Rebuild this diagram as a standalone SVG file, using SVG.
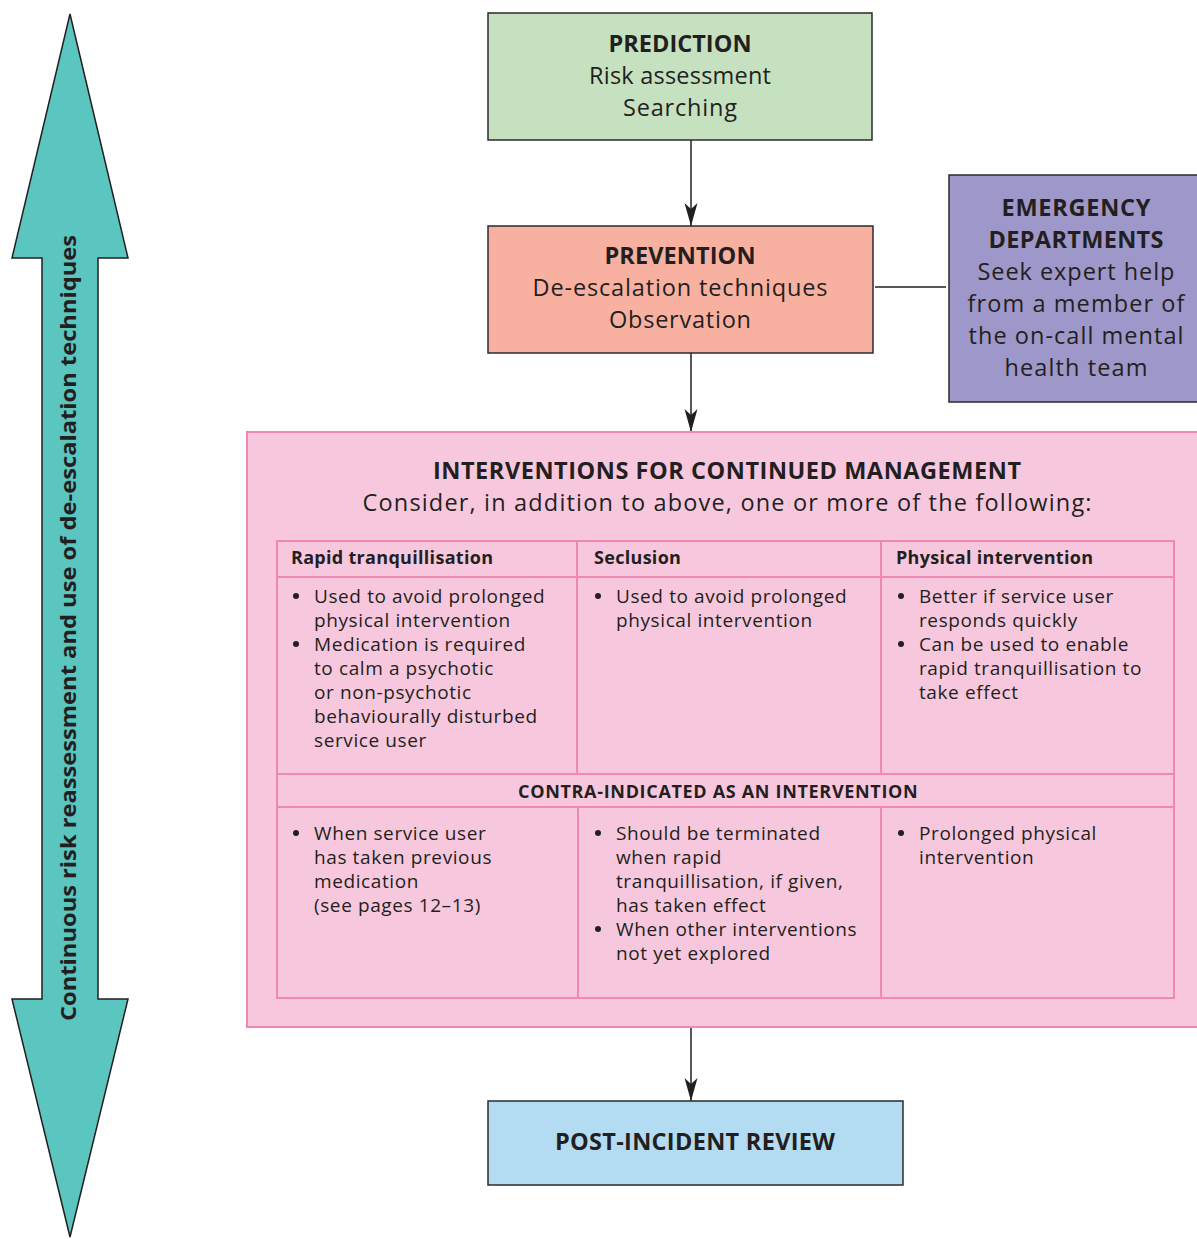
<svg xmlns="http://www.w3.org/2000/svg" width="1197" height="1239" viewBox="0 0 1197 1239">
<defs>
<style>
text{font-family:"Open Sans","Noto Sans","DejaVu Sans",sans-serif;fill:#231f20}
.t{font-size:23.5px;text-anchor:middle}
.b{font-weight:bold}
.h{font-size:18px;font-weight:bold;letter-spacing:0.3px}
.c{font-size:19px;letter-spacing:0.6px}
.dot{fill:#231f20}
.box{stroke:#2b2b2b;stroke-width:1.5}
.pk{fill:none;stroke:#ef88b5;stroke-width:2}
.con{stroke:#231f20;stroke-width:1.5;fill:none}
</style>
<marker id="ah" markerWidth="24" markerHeight="14" refX="23" refY="7" orient="auto" markerUnits="userSpaceOnUse" viewBox="0 0 24 14">
<path d="M0,0.5 L23,7 L0,13.5 L6,7 Z" fill="#231f20"/>
</marker>
</defs>
<rect width="1197" height="1239" fill="#fff"/>

<g id="side-arrow">
<path d="M70,14 L128,258 L98,258 L98,999 L128,999 L70,1237 L12,999 L42,999 L42,258 L12,258 Z" fill="#5bc5c0" stroke="#231f20" stroke-width="1.5"/>
<text transform="translate(76,628) rotate(-90)" font-size="22" font-weight="bold" text-anchor="middle" textLength="786" lengthAdjust="spacingAndGlyphs">Continuous risk reassessment and use of de-escalation techniques</text>
</g>

<g id="connectors">
<line class="con" x1="691" y1="140" x2="691" y2="226" marker-end="url(#ah)"/>
<line class="con" x1="691" y1="353" x2="691" y2="432" marker-end="url(#ah)"/>
<line class="con" x1="691" y1="1027" x2="691" y2="1101" marker-end="url(#ah)"/>
<line class="con" x1="875" y1="287" x2="946" y2="287"/>
</g>

<g id="prediction">
<rect class="box" x="488" y="13" width="384" height="127" fill="#c5e1bf"/>
<text class="t b" x="680" y="52" textLength="143">PREDICTION</text>
<text class="t" x="680" y="84" textLength="182">Risk assessment</text>
<text class="t" x="680" y="116" textLength="114">Searching</text>
</g>

<g id="prevention">
<rect class="box" x="488" y="226" width="385" height="127" fill="#f8b1a0"/>
<text class="t b" x="680" y="264" textLength="151">PREVENTION</text>
<text class="t" x="680" y="296" textLength="295">De-escalation techniques</text>
<text class="t" x="680" y="328" textLength="142">Observation</text>
</g>

<g id="emergency">
<rect class="box" x="949" y="175" width="260" height="227" fill="#9e97c9"/>
<text class="t b" x="1076" y="216" textLength="149">EMERGENCY</text>
<text class="t b" x="1076" y="248" textLength="175">DEPARTMENTS</text>
<text class="t" x="1076" y="280" textLength="197">Seek expert help</text>
<text class="t" x="1076" y="312" textLength="217">from a member of</text>
<text class="t" x="1076" y="344" textLength="215">the on-call mental</text>
<text class="t" x="1076" y="376" textLength="143">health team</text>
</g>

<g id="interventions">
<rect x="247" y="432" width="962" height="595" fill="#f7c8dd" stroke="#ef88b5" stroke-width="2"/>
<text class="t b" x="727" y="479" textLength="588">INTERVENTIONS FOR CONTINUED MANAGEMENT</text>
<text class="t" x="727" y="511" textLength="729">Consider, in addition to above, one or more of the following:</text>
<rect class="pk" x="277" y="541" width="897" height="457" stroke-width="2.5"/>
<line class="pk" x1="277" y1="577" x2="1174" y2="577"/>
<line class="pk" x1="277" y1="774" x2="1174" y2="774"/>
<line class="pk" x1="277" y1="807" x2="1174" y2="807"/>
<line class="pk" x1="577" y1="541" x2="577" y2="774"/>
<line class="pk" x1="881" y1="541" x2="881" y2="774"/>
<line class="pk" x1="578" y1="807" x2="578" y2="998"/>
<line class="pk" x1="881" y1="807" x2="881" y2="998"/>

<text class="h" x="291" y="564">Rapid tranquillisation</text>
<text class="h" x="594" y="564">Seclusion</text>
<text class="h" x="896" y="564">Physical intervention</text>

<circle class="dot" cx="296" cy="596" r="3"/>
<text class="c" x="314" y="603">Used to avoid prolonged</text>
<text class="c" x="314" y="627">physical intervention</text>
<circle class="dot" cx="296" cy="644" r="3"/>
<text class="c" x="314" y="651">Medication is required</text>
<text class="c" x="314" y="675">to calm a psychotic</text>
<text class="c" x="314" y="699">or non-psychotic</text>
<text class="c" x="314" y="723">behaviourally disturbed</text>
<text class="c" x="314" y="747">service user</text>

<circle class="dot" cx="598" cy="596" r="3"/>
<text class="c" x="616" y="603">Used to avoid prolonged</text>
<text class="c" x="616" y="627">physical intervention</text>

<circle class="dot" cx="901" cy="596" r="3"/>
<text class="c" x="919" y="603">Better if service user</text>
<text class="c" x="919" y="627">responds quickly</text>
<circle class="dot" cx="901" cy="644" r="3"/>
<text class="c" x="919" y="651">Can be used to enable</text>
<text class="c" x="919" y="675">rapid tranquillisation to</text>
<text class="c" x="919" y="699">take effect</text>

<text class="h" x="718" y="798" text-anchor="middle" textLength="400">CONTRA-INDICATED AS AN INTERVENTION</text>

<circle class="dot" cx="296" cy="833" r="3"/>
<text class="c" x="314" y="840">When service user</text>
<text class="c" x="314" y="864">has taken previous</text>
<text class="c" x="314" y="888">medication</text>
<text class="c" x="314" y="912">(see pages 12–13)</text>

<circle class="dot" cx="598" cy="833" r="3"/>
<text class="c" x="616" y="840">Should be terminated</text>
<text class="c" x="616" y="864">when rapid</text>
<text class="c" x="616" y="888">tranquillisation, if given,</text>
<text class="c" x="616" y="912">has taken effect</text>
<circle class="dot" cx="598" cy="929" r="3"/>
<text class="c" x="616" y="936">When other interventions</text>
<text class="c" x="616" y="960">not yet explored</text>

<circle class="dot" cx="901" cy="833" r="3"/>
<text class="c" x="919" y="840">Prolonged physical</text>
<text class="c" x="919" y="864">intervention</text>
</g>

<g id="post-incident">
<rect class="box" x="488" y="1101" width="415" height="84" fill="#b3dcf3"/>
<text class="t b" x="695" y="1150" textLength="280">POST-INCIDENT REVIEW</text>
</g>
</svg>
